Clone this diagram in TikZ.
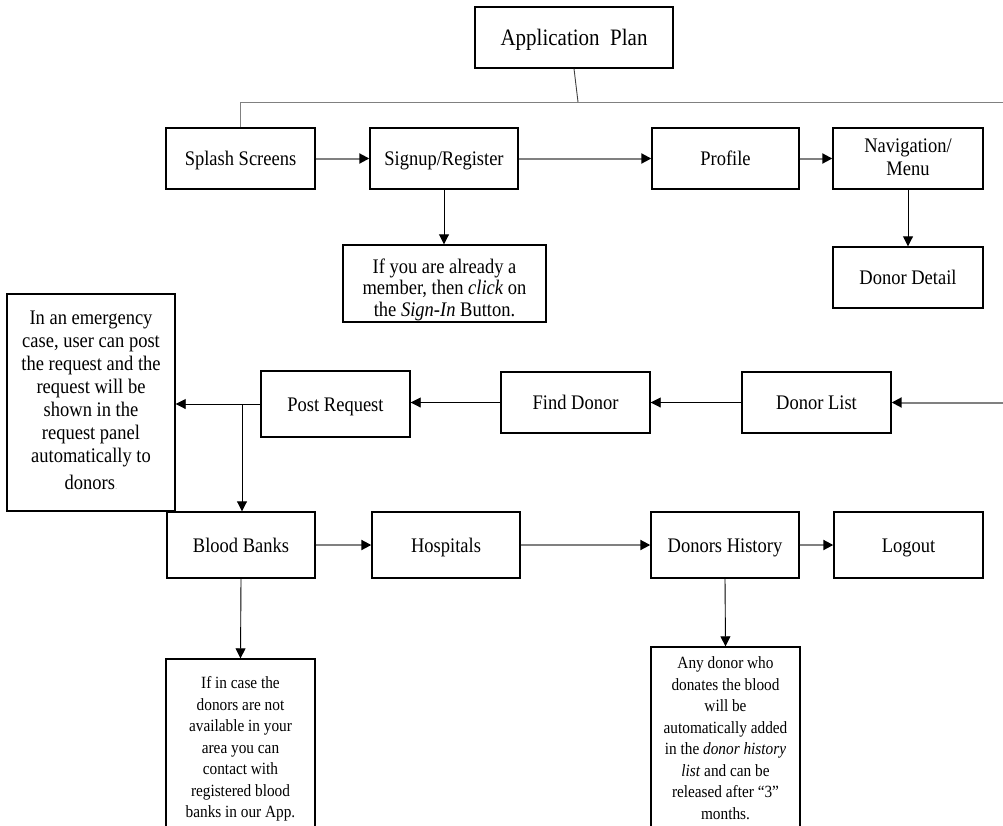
\documentclass[tikz,border=0pt]{standalone}
\usepackage{fontspec}
\usepackage{graphicx}
\setmainfont{Liberation Serif}
\usetikzlibrary{arrows.meta}
\newsavebox{\vtbox}
\newcommand{\vtxt}[2][2.5pt]{\sbox{\vtbox}{\scalebox{1}[1.12]{\begin{tabular}{@{}c@{}}#2\end{tabular}}}\raisebox{-#1}[\ht\vtbox][\dp\vtbox]{\usebox{\vtbox}}}
\tikzset{
  box/.style={draw=black, line width=1.4pt, inner sep=0pt, align=center, fill=white},
  mainfont/.style={font=\fontsize{18.5}{20.5}\selectfont},
  notefont/.style={font=\fontsize{15.3}{19.2}\selectfont},
  gline/.style={draw=black!50, line width=1pt},
  tline/.style={draw=black!75, line width=0.9pt},
  garr/.style={draw=black!50, line width=2pt, -{Triangle[length=10pt,width=10pt,color=black]}},
  barr/.style={draw=black, line width=0.9pt, -{Triangle[length=10pt,width=10pt]}}
}
\begin{document}
\begin{tikzpicture}[x=1pt,y=-1pt]
\useasboundingbox (0,0) rectangle (1003,825);
\fill[white] (0,0) rectangle (1003,825);
\clip (0,0) rectangle (1003,825);
% row 0
\node[box, minimum width=198pt, minimum height=61pt, font=\fontsize{21}{23}\selectfont] (app) at (574,37.5) {\vtxt{Application\ \ Plan}};
% row 1
\node[box, mainfont, minimum width=149pt, minimum height=61pt] (spl) at (240.5,158.5) {\vtxt{Splash Screens}};
\node[box, mainfont, minimum width=148pt, minimum height=61pt] (sig) at (444,158.5) {\vtxt{Signup/Register}};
\node[box, mainfont, minimum width=147pt, minimum height=61pt] (pro) at (725.5,158.5) {\vtxt{Profile}};
\node[box, mainfont, minimum width=150pt, minimum height=61pt] (nav) at (908,158.5) {\vtxt[1pt]{Navigation/\\Menu}};
\node[box, mainfont, minimum width=150pt, minimum height=61pt] (ddet) at (908,277.5) {\vtxt{Donor Detail}};
\node[box, font=\fontsize{18.5}{19.5}\selectfont, minimum width=203pt, minimum height=77pt] (info) at (444.5,283.5)
  {\vtxt[7pt]{If you are already a\\member, then \textit{click} on\\the \textit{Sign-In} Button.}};
% row 2
\node[box, mainfont, minimum width=168pt, minimum height=217pt] (emerg) at (91,402.5)
  {\vtxt[0pt]{In an emergency\\case, user can post\\the request and the\\request will be\\shown in the\\request panel\\automatically to\\[4pt]donors{\fontsize{9}{9}\selectfont\color{black!25}.}}};
\node[box, mainfont, minimum width=149pt, minimum height=66pt] (post) at (335.5,404) {\vtxt{Post Request}};
\node[box, mainfont, minimum width=149pt, minimum height=61pt] (find) at (575.5,402.5) {\vtxt{Find Donor}};
\node[box, mainfont, minimum width=149pt, minimum height=61pt] (dl) at (816.5,402.5) {\vtxt{Donor List}};
% row 3
\node[box, mainfont, minimum width=148pt, minimum height=66pt] (bb) at (241,545) {\vtxt{Blood Banks}};
\node[box, mainfont, minimum width=148pt, minimum height=66pt] (hos) at (446,545) {\vtxt{Hospitals}};
\node[box, mainfont, minimum width=148pt, minimum height=66pt] (dh) at (725,545) {\vtxt{Donors History}};
\node[box, mainfont, minimum width=149pt, minimum height=66pt] (lo) at (908.5,545) {\vtxt{Logout}};
% bottom notes
\node[box, notefont, minimum width=149pt, minimum height=178pt] (bbinfo) at (240.5,748)
  {\vtxt[1pt]{If in case the\\donors are not\\available in your\\area you can\\contact with\\registered blood\\banks in our App.}};
\node[box, notefont, minimum width=149pt, minimum height=183pt] (dhinfo) at (725.5,738.5)
  {\vtxt[1pt]{Any donor who\\donates the blood\\will be\\automatically added\\in the \textit{donor history}\\\textit{list} and can be\\released after “3”\\months.}};
% coordinates
\coordinate (tj) at (578,102);
\coordinate (r1) at (1003,102);
\coordinate (r2) at (1003,402.5);
\coordinate (bj) at (242,404);
% connectors
\draw[tline] (app.south) -- (tj);
\draw[gline] (spl.north) |- (r1);
\draw[garr] (spl.east) -- (sig.west);
\draw[garr] (sig.east) -- (pro.west);
\draw[garr] (pro.east) -- (nav.west);
\draw[barr] (sig.south) -- (sig.south |- info.north);
\draw[barr] (nav.south) -- (ddet.north);
\draw[garr] (r2) -- (dl.east);
\draw[barr] (dl.west) -- (find.east);
\draw[barr] (find.west) -- (find.west -| post.east);
\draw[barr] (post.west) -- (post.west -| emerg.east);
\draw[barr] (bj) -- (bj |- bb.north);
\draw[garr] (bb.east) -- (hos.west);
\draw[garr] (hos.east) -- (dh.west);
\draw[garr] (dh.east) -- (lo.west);
\draw[barr] (bb.south) -- (bbinfo.north);
\draw[barr] (dh.south) -- (dhinfo.north);
\end{tikzpicture}
\end{document}
